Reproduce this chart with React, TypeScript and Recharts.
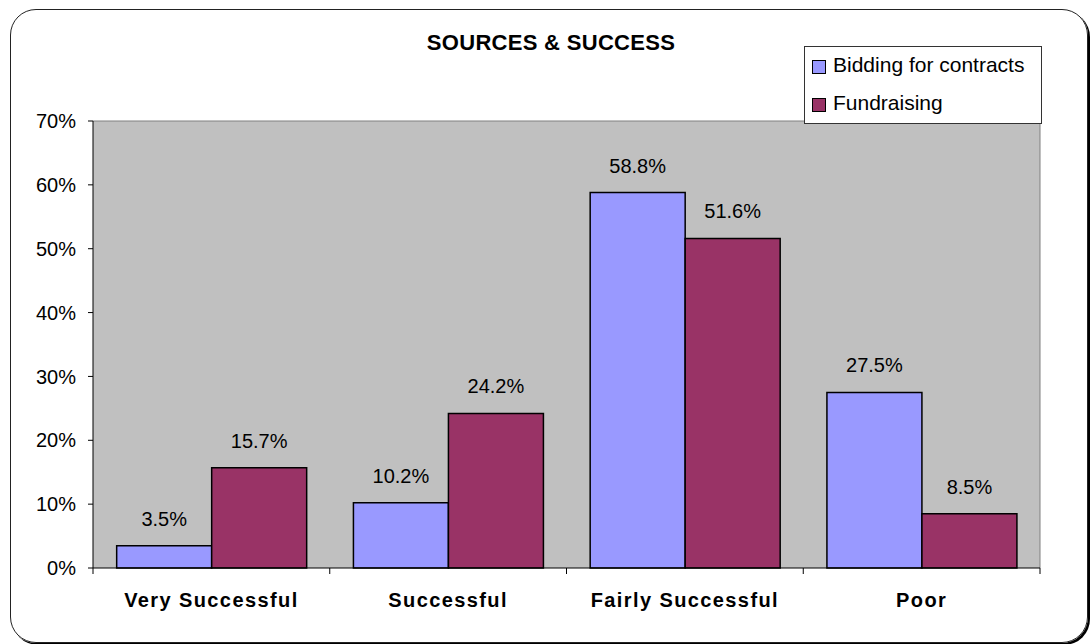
import React from 'react'
import { BarChart, Bar, XAxis, YAxis, CartesianGrid, LabelList } from 'recharts'

const categories = ['Very Successful', 'Successful', 'Fairly Successful', 'Poor']
const bidding = [3.5, 10.2, 58.8, 27.5]
const fundraising = [15.7, 24.2, 51.6, 8.5]
const yTicks = [0, 10, 20, 30, 40, 50, 60, 70]

const data = categories.map((name, i) => ({ name, bidding: bidding[i], fundraising: fundraising[i] }))

const FONT = '"Liberation Sans", Arial, sans-serif'
const PLOT_LEFT = 93
const PLOT_RIGHT = 1040
const BAND = (PLOT_RIGHT - PLOT_LEFT) / categories.length

// x tick: label plus tick marks on the category boundaries
function CategoryTick(props: any) {
  const { x, y, payload, index } = props
  const top = y - 8
  const left = x - BAND / 2
  return (
    <g>
      <line x1={left} x2={left} y1={top} y2={top + 6} stroke="#000" />
      {index === categories.length - 1 && (
        <line x1={x + BAND / 2} x2={x + BAND / 2} y1={top} y2={top + 6} stroke="#000" />
      )}
      <text x={x} y={y + 31} textAnchor="middle" fontFamily={FONT} fontSize={20} fontWeight="bold"
        letterSpacing={1.4} fill="#000">
        {payload.value}
      </text>
    </g>
  )
}

// value label above each bar
function ValueLabel(props: any) {
  const { x, y, width, value } = props
  return (
    <text x={Number(x) + Number(width) / 2} y={Number(y) - 20} textAnchor="middle"
      fontFamily={FONT} fontSize={20} fill="#000">
      {`${Number(value).toFixed(1)}%`}
    </text>
  )
}

const legendItems = [
  ['Bidding for contracts', '#9999FF'],
  ['Fundraising', '#993366'],
]

export default function App() {
  return (
    <div style={{ position: 'absolute', left: 0, top: 0, width: 1090, height: 644, background: '#fff', fontFamily: FONT }}>
      <div style={{
        position: 'absolute', left: 10, top: 9, width: 1076, height: 632,
        border: '1.5px solid #222', borderRadius: 26, boxShadow: '2px 2px 0 #000',
      }} />
      <div style={{
        position: 'absolute', left: 551, top: 32, transform: 'translateX(-50%)', lineHeight: '22px',
        fontSize: 22, fontWeight: 'bold', letterSpacing: 0.3, whiteSpace: 'nowrap', color: '#000',
      }}>
        SOURCES &amp; SUCCESS
      </div>
      <div style={{ position: 'absolute', left: 0, top: 0 }}>
        <BarChart width={1090} height={644} data={data}
          margin={{ top: 121, right: 1090 - PLOT_RIGHT, bottom: 26, left: 0 }}
          barCategoryGap="10%" barGap={0}>
          <CartesianGrid fill="#C0C0C0" stroke="#808080"
            horizontalCoordinatesGenerator={({ offset }: any) => [offset.top]}
            verticalCoordinatesGenerator={({ offset }: any) => [offset.left + offset.width]} />
          <XAxis dataKey="name" height={50} tickLine={false} tickSize={6} tickMargin={2}
            axisLine={{ stroke: '#000' }} tick={<CategoryTick />} interval={0} />
          <YAxis width={PLOT_LEFT} domain={[0, 70]} ticks={yTicks} tickFormatter={(v) => `${v}%`}
            tickSize={5} tickMargin={12} axisLine={{ stroke: '#000' }} tickLine={{ stroke: '#000' }}
            tick={{ fill: '#000', fontSize: 20, fontFamily: FONT }} />
          <Bar dataKey="bidding" fill="#9999FF" stroke="#000" strokeWidth={1.5} isAnimationActive={false}>
            <LabelList dataKey="bidding" content={<ValueLabel />} />
          </Bar>
          <Bar dataKey="fundraising" fill="#993366" stroke="#000" strokeWidth={1.5} isAnimationActive={false}>
            <LabelList dataKey="fundraising" content={<ValueLabel />} />
          </Bar>
        </BarChart>
      </div>
      <div style={{
        position: 'absolute', left: 804, top: 46, width: 238, height: 78,
        border: '1px solid #333', background: '#fff', boxSizing: 'border-box',
      }}>
        {legendItems.map(([label, color], i) => (
          <React.Fragment key={label}>
            <span style={{
              position: 'absolute', left: 7, top: 13 + i * 38, width: 14, height: 14, boxSizing: 'border-box',
              background: color, border: '1px solid #000',
            }} />
            <span style={{
              position: 'absolute', left: 28, top: 7 + i * 38, lineHeight: '21px',
              fontSize: 21, color: '#000', whiteSpace: 'nowrap',
            }}>
              {label}
            </span>
          </React.Fragment>
        ))}
      </div>
    </div>
  )
}
